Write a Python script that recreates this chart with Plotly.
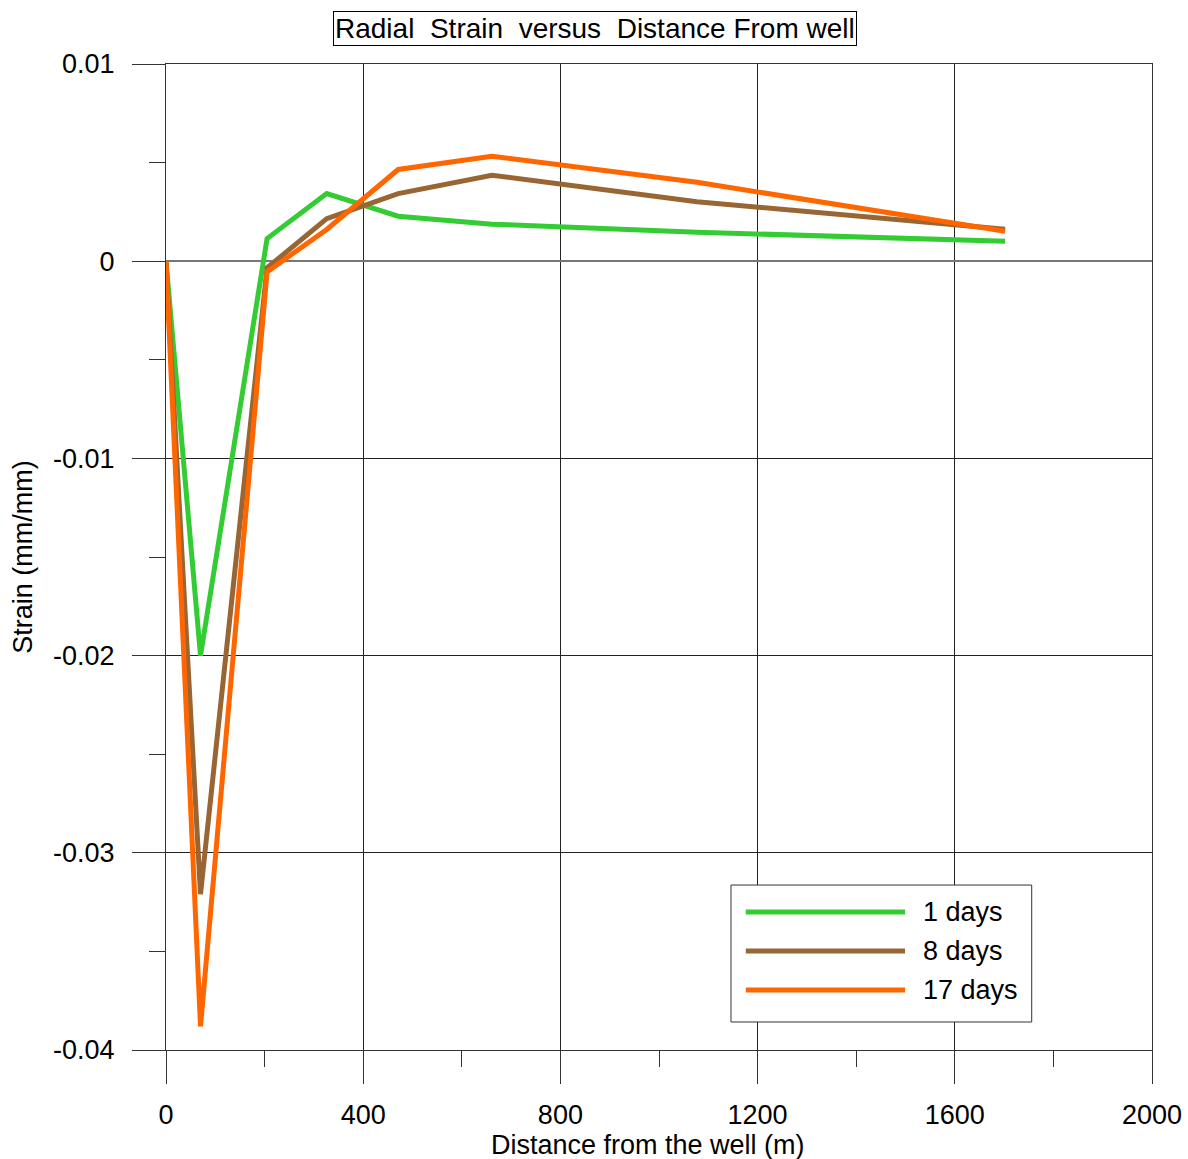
import plotly.graph_objects as go

distance_m = [0, 70, 205, 326, 471, 661, 1077, 1702]
strain_1_days = [0.0, -0.0200, 0.00115, 0.00343, 0.00228, 0.00188, 0.00147, 0.00101]
strain_8_days = [0.0, -0.0321, -0.00034, 0.00216, 0.00343, 0.00436, 0.00302, 0.00162]
strain_17_days = [0.0, -0.0388, -0.00054, 0.00161, 0.00465, 0.00532, 0.00400, 0.00152]

series_names = ["1 days", "8 days", "17 days"]
series_values = [strain_1_days, strain_8_days, strain_17_days]
series_colors = ["#33CC33", "#996633", "#FF6600"]

x_ticks = [0, 400, 800, 1200, 1600, 2000]
y_ticks = [0.01, 0, -0.01, -0.02, -0.03, -0.04]
y_tick_labels = ["0.01", "0", "-0.01", "-0.02", "-0.03", "-0.04"]

FONT = "Liberation Sans, Arial, sans-serif"
FS = 27

fig = go.Figure()
for name, vals, col in zip(series_names, series_values, series_colors):
    fig.add_trace(go.Scatter(x=distance_m, y=vals, mode="lines", name=name,
                             line=dict(color=col, width=5), showlegend=False))

# manual legend box
legend_box = dict(x0=0.573, x1=0.878, y0=0.0284, y1=0.1673)
fig.add_shape(type="rect", xref="paper", yref="paper", **legend_box,
              line=dict(color="#333333", width=1), fillcolor="white", layer="above")
row_y = [0.140, 0.1004, 0.0609]
for name, col, yy in zip(series_names, series_colors, row_y):
    fig.add_shape(type="line", xref="paper", yref="paper", x0=0.588, x1=0.7495, y0=yy, y1=yy,
                  line=dict(color=col, width=5), layer="above")
    fig.add_annotation(xref="paper", yref="paper", x=0.7657, y=yy, text=name, showarrow=False,
                       xanchor="left", yanchor="middle", font=dict(family=FONT, size=FS, color="black"))

# boxed title
fig.add_annotation(xref="paper", yref="paper", x=(595 - 166) / 986, y=(1050 - 29) / 986,
                   text="Radial  Strain  versus  Distance From well", showarrow=False,
                   xanchor="center", yanchor="middle",
                   font=dict(family=FONT, size=28, color="black"),
                   bordercolor="black", borderwidth=1, borderpad=1, bgcolor="white")

# x axis title
fig.add_annotation(xref="paper", yref="paper", x=(648 - 166) / 986, y=(1050 - 1145) / 986,
                   text="Distance from the well (m)", showarrow=False,
                   xanchor="center", yanchor="middle",
                   font=dict(family=FONT, size=FS, color="black"))

fig.update_layout(
    width=1188, height=1159,
    margin=dict(l=166, r=36, t=64, b=109),
    paper_bgcolor="white", plot_bgcolor="white",
    font=dict(family=FONT, size=FS, color="black"),
    xaxis=dict(range=[0, 2000], tickvals=x_ticks, ticktext=[str(v) for v in x_ticks],
               ticks="outside", ticklen=33, tickcolor="#333333", tickwidth=1,
               minor=dict(tickvals=[200, 600, 1000, 1400, 1800], ticks="outside", ticklen=16,
                          tickcolor="#333333", showgrid=False),
               showgrid=True, gridcolor="#222222", gridwidth=1,
               showline=True, linecolor="#333333", linewidth=1, mirror=True,
               zeroline=False, ticklabelstandoff=8, automargin=False),
    yaxis=dict(range=[-0.04, 0.01], tickvals=y_ticks, ticktext=y_tick_labels,
               ticks="outside", ticklen=33, tickcolor="#333333", tickwidth=1,
               minor=dict(tickvals=[0.005, -0.005, -0.015, -0.025, -0.035], ticks="outside",
                          ticklen=16, tickcolor="#333333", showgrid=False),
               showgrid=True, gridcolor="#222222", gridwidth=1,
               showline=True, linecolor="#333333", linewidth=1, mirror=True,
               zeroline=True, zerolinecolor="#777777", zerolinewidth=2,
               ticklabelstandoff=12, automargin=False,
               title=dict(text="Strain (mm/mm)", standoff=12, font=dict(size=FS))),
)

fig.write_html("out.html")
